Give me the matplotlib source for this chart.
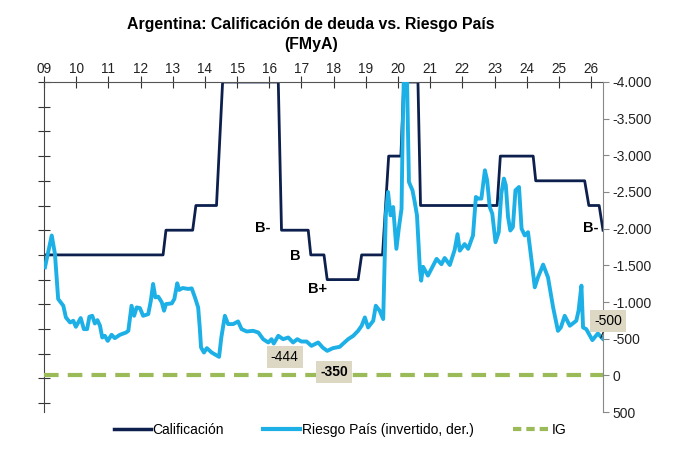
import matplotlib

matplotlib.use("Agg")
import matplotlib.pyplot as plt
from matplotlib.ticker import FuncFormatter, MultipleLocator
from matplotlib.lines import Line2D

plt.rcParams["font.family"] = ["Liberation Sans", "DejaVu Sans"]

# Calificacion: nivel contado desde arriba (0 = default, 3 = CCC-, 5 = CCC+, 6 = B-, 7 = B, 8 = B+)
calif_fecha = [2009.03, 2012.70, 2012.79, 2013.62, 2013.72, 2014.36, 2014.55, 2016.28,
               2016.38, 2017.21, 2017.29, 2017.70, 2017.80, 2018.76, 2018.87, 2019.52,
               2019.71, 2020.09, 2020.18, 2020.62, 2020.70, 2023.08, 2023.18, 2024.20,
               2024.28, 2025.80, 2025.93, 2026.25, 2026.37]
calif_nivel = [7, 7, 6, 6, 5, 5, 0, 0,
               6, 6, 7, 7, 8, 8, 7, 7,
               3, 3, 0, 0, 5, 5, 3, 3,
               4, 4, 5, 5, 6]

# Riesgo pais en puntos basicos (se grafica invertido, con signo negativo)
rp_fecha = [2009.03, 2009.24, 2009.34, 2009.44, 2009.60, 2009.68, 2009.81, 2009.91, 2009.99,
            2010.14, 2010.24, 2010.34, 2010.41, 2010.50, 2010.58, 2010.66, 2010.74, 2010.81,
            2010.89, 2010.98, 2011.10, 2011.20, 2011.36, 2011.55, 2011.62, 2011.72, 2011.80,
            2011.88, 2011.98, 2012.08, 2012.24, 2012.32, 2012.39, 2012.46, 2012.55, 2012.66,
            2012.73, 2012.79, 2012.97, 2013.05, 2013.14, 2013.20, 2013.31, 2013.48, 2013.59,
            2013.69, 2013.79, 2013.84, 2013.88, 2013.97, 2014.06, 2014.21, 2014.44, 2014.51,
            2014.62, 2014.72, 2014.88, 2015.03, 2015.14, 2015.30, 2015.50, 2015.66, 2015.81,
            2015.97, 2016.07, 2016.14, 2016.28, 2016.43, 2016.59, 2016.74, 2016.87, 2017.00,
            2017.16, 2017.31, 2017.52, 2017.66, 2017.80, 2017.98, 2018.19, 2018.30, 2018.45,
            2018.61, 2018.76, 2018.87, 2018.97, 2019.07, 2019.23, 2019.31, 2019.43, 2019.54,
            2019.62, 2019.69, 2019.77, 2019.85, 2019.95, 2020.03, 2020.11, 2020.14, 2020.20,
            2020.26, 2020.34, 2020.45, 2020.52, 2020.59, 2020.68, 2020.72, 2020.78, 2020.93,
            2021.20, 2021.35, 2021.45, 2021.61, 2021.76, 2021.85, 2021.92, 2022.07, 2022.18,
            2022.33, 2022.42, 2022.49, 2022.59, 2022.70, 2022.77, 2022.85, 2022.93, 2023.03,
            2023.13, 2023.21, 2023.29, 2023.35, 2023.42, 2023.49, 2023.57, 2023.65, 2023.76,
            2023.84, 2023.94, 2024.04, 2024.15, 2024.25, 2024.35, 2024.51, 2024.66, 2024.82,
            2024.97, 2025.06, 2025.18, 2025.34, 2025.54, 2025.61, 2025.70, 2025.75, 2025.85,
            2026.04, 2026.21, 2026.36]
rp_puntos = [1473, 1907, 1657, 1041, 949, 790, 721, 744, 662,
             781, 630, 630, 799, 812, 707, 753, 676, 516,
             539, 470, 553, 507, 553, 584, 607, 949, 812,
             926, 917, 812, 835, 1018, 1246, 1063, 1073, 995,
             881, 972, 981, 1041, 1255, 1164, 1191, 1178, 1186,
             1063, 926, 653, 380, 311, 371, 311, 252, 516,
             812, 699, 699, 735, 630, 598, 607, 584, 493,
             448, 493, 434, 539, 493, 516, 448, 493, 461,
             461, 402, 448, 379, 334, 371, 389, 434, 493,
             539, 607, 676, 790, 653, 744, 949, 881, 767,
             2181, 2500, 2181, 2295, 1725, 2021, 2272, 3184, 4500,
             4500, 2636, 2523, 2362, 2181, 1451, 1291, 1480, 1360,
             1588, 1515, 1600, 1505, 1710, 1925, 1700, 1790, 1725,
             1907, 2432, 2410, 2410, 2796, 2659, 2295, 2204, 1815,
             1952, 2477, 2683, 2591, 2158, 1975, 2021, 2523, 2568,
             2000, 1907, 1952, 1565, 1200, 1337, 1510, 1337, 926,
             607, 653, 812, 676, 744, 881, 1223, 653, 630,
             480, 571, 500]

anios = list(range(2009, 2027))
anio_labels = [f"{a % 100:02d}" for a in anios]

AZUL_OSCURO = "#0c1f4d"
CELESTE = "#1cb0e6"
VERDE = "#9bbb59"
CAJA = "#ddd8c4"

fig = plt.figure(figsize=(6.8, 4.75), dpi=100)
ax = fig.add_axes([44 / 680, 1 - 412 / 475, (603 - 44) / 680, (412 - 82) / 475])
ax2 = ax.twinx()

ax.plot(calif_fecha, calif_nivel, color=AZUL_OSCURO, lw=2.0)
ax.set_ylim(13.36, 0)
ax.set_xlim(2009, 2026.37)
ax.yaxis.set_major_locator(MultipleLocator(1))
ax.set_yticklabels([])
ax.tick_params(axis="y", direction="inout", length=8, color="#333333")

ax.xaxis.tick_top()
ax.set_xticks(anios)
ax.set_xticklabels(anio_labels, fontsize=9.8, color="#222222")
ax.tick_params(axis="x", direction="inout", length=8, color="#333333", pad=0.5)

for lado in ["bottom", "right"]:
    ax.spines[lado].set_visible(False)
ax.spines["top"].set_color("#555555")
ax.spines["left"].set_color("#444444")

rp_inv = [-v for v in rp_puntos]
ax2.plot(rp_fecha, rp_inv, color=CELESTE, lw=2.8)
ax2.axhline(0, color=VERDE, lw=3, ls=(0, (3.5, 2.2)))
ax2.set_ylim(500, -4000)
ax2.yaxis.set_major_locator(MultipleLocator(500))
ax2.yaxis.set_major_formatter(FuncFormatter(lambda v, p: f"{v:,.0f}".replace(",", ".")))
ax2.tick_params(axis="y", labelsize=10, labelcolor="#222222", color="#888888",
                length=4, pad=3)
for lado in ["top", "bottom", "left"]:
    ax2.spines[lado].set_visible(False)
ax2.spines["right"].set_color("#888888")

# etiquetas de calificacion
ax.text(2016.05, 5.9, "B-", ha="right", va="center", fontsize=10.5, fontweight="bold")
ax.text(2016.80, 7.05, "B", ha="center", va="center", fontsize=10.5, fontweight="bold")
ax.text(2017.51, 8.38, "B+", ha="center", va="center", fontsize=10.5, fontweight="bold")
ax.text(2026.22, 5.9, "B-", ha="right", va="center", fontsize=10.5, fontweight="bold")

# etiquetas de datos
caja = dict(boxstyle="square,pad=0.3", fc=CAJA, ec="none")
ax2.text(2016.48, -252, "-444", ha="center", va="center", fontsize=10, bbox=caja)
ax2.text(2018.02, -46, "-350", ha="center", va="center", fontsize=10,
         fontweight="bold", bbox=caja)
ax2.annotate("-500", xy=(2026.3, -510), xytext=(2026.52, -744), ha="center", va="center",
             fontsize=10, bbox=caja, annotation_clip=False,
             arrowprops=dict(arrowstyle="-", color="#222222", lw=0.8, shrinkA=0, shrinkB=0))

fig.text(311 / 680, 1 - 24 / 475, "Argentina: Calificación de deuda vs. Riesgo País",
         ha="center", va="center", fontsize=11.4, fontweight="bold")
fig.text(311 / 680, 1 - 45 / 475, "(FMyA)", ha="center", va="center",
         fontsize=11.4, fontweight="bold")

handles = [Line2D([], [], color=AZUL_OSCURO, lw=2.5),
           Line2D([], [], color=CELESTE, lw=3),
           Line2D([], [], color=VERDE, lw=3, ls=(0, (2, 1.2)))]
fig.legend(handles, ["Calificación", "Riesgo País (invertido, der.)", "IG"],
           loc="center", bbox_to_anchor=(0.5, 1 - 430 / 475), ncol=3, frameon=False,
           fontsize=10, handlelength=2.7, handletextpad=0.1, columnspacing=2.8)

fig.savefig("out.png", dpi=100)
